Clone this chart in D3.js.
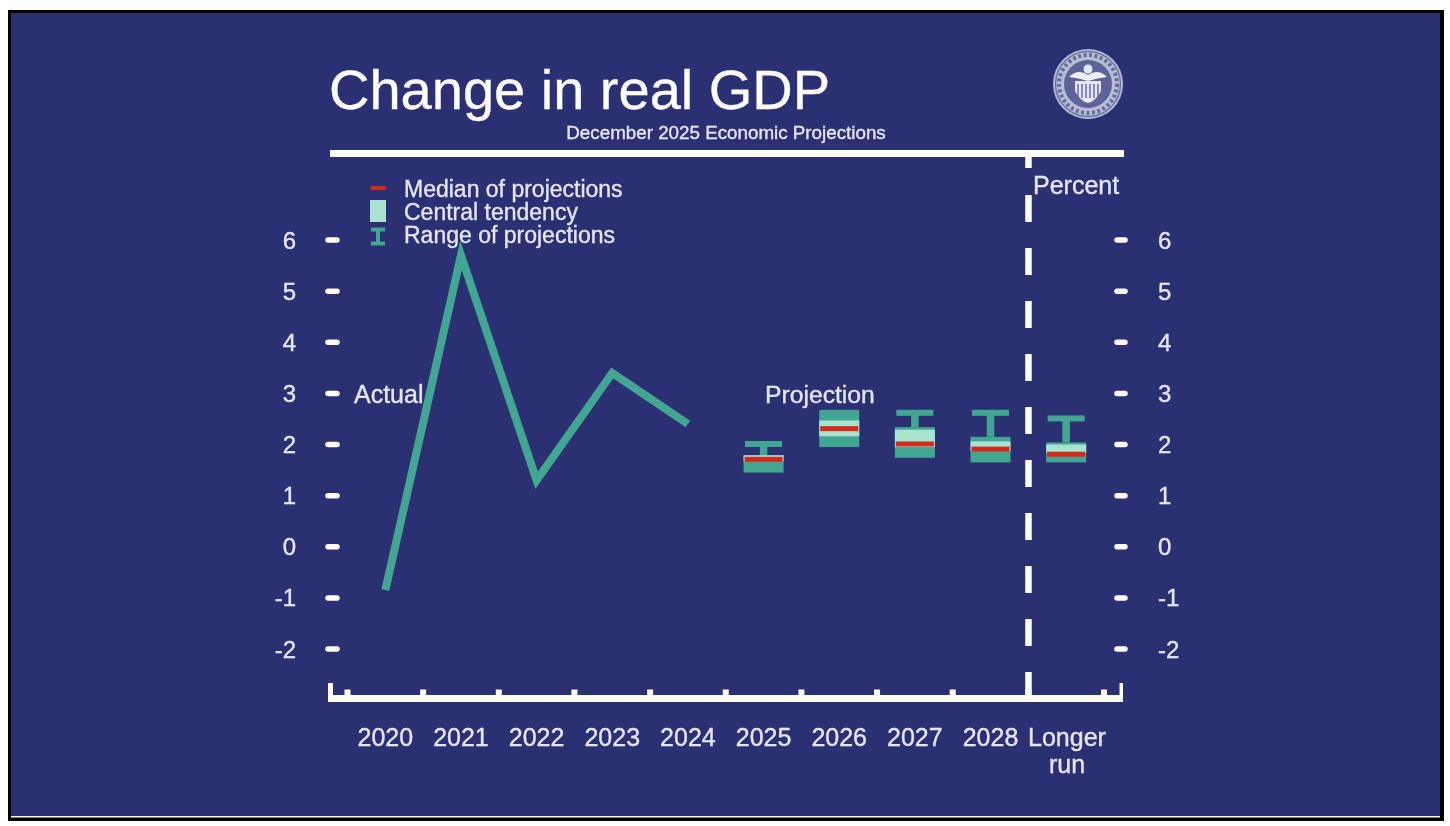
<!DOCTYPE html>
<html><head><meta charset="utf-8">
<script src="https://cdn.jsdelivr.net/npm/d3@7"></script>
<style>
html,body{margin:0;padding:0;background:#fff;overflow:hidden}
svg{display:block}
text{font-family:"Liberation Sans",Arial,sans-serif;fill:#e4e7f2;stroke:#e4e7f2;stroke-width:.35px}
</style></head><body>
<script>
const categories=["2020","2021","2022","2023","2024","2025","2026","2027","2028","Longer run"];
const yTicks=[6,5,4,3,2,1,0,-1,-2];
const actualYears=["2020","2021","2022","2023","2024"];
const actualValues=[-0.85,5.7,1.3,3.4,2.4];
const projYears=["2025","2026","2027","2028","Longer run"];
const rangeHigh=[2.01,2.62,2.62,2.62,2.51];
const boxHigh=[1.79,2.67,2.34,2.15,2.04];
const boxLow=[1.45,1.95,1.74,1.65,1.65];
const centralHigh=[1.79,2.47,2.29,2.06,2.0];
const centralLow=[1.67,2.16,1.95,1.87,1.83];
const medians=[1.71,2.31,2.01,1.91,1.81];

const W=1450,H=826,bg="#2b3072",teal="#42a692",light="#a8e3d0",red="#d32a1e",white="#fdfdff";
const svg=d3.select("body").append("svg").attr("width",W).attr("height",H);
svg.append("rect").attr("width",W).attr("height",H).attr("fill","#fff");
svg.append("rect").attr("x",8).attr("y",10).attr("width",1436).attr("height",811).attr("fill","#000");
svg.append("rect").attr("x",11).attr("y",13).attr("width",1429).attr("height",804).attr("fill",bg);
svg.append("rect").attr("x",11).attr("y",816).attr("width",1429).attr("height",1.5).attr("fill","#fff");

const defs=svg.append("defs");
defs.append("filter").attr("id","soft").attr("x","-5%").attr("y","-5%").attr("width","110%").attr("height","110%")
  .append("feGaussianBlur").attr("stdDeviation",0.55);
const chart=svg.append("g").attr("filter","url(#soft)");

const x=d3.scaleBand().domain(categories).range([347.5,1104]).paddingInner(0).paddingOuter(0);
const cx=c=>x(c)+x.bandwidth()/2;
const y=d3.scaleLinear().domain([-2,6]).range([649,240]);

// header
chart.append("text").attr("x",329).attr("y",109).attr("font-size",56).style("fill",white).style("stroke",white).text("Change in real GDP");
chart.append("text").attr("x",726).attr("y",139).attr("text-anchor","middle").attr("font-size",18.8).text("December 2025 Economic Projections");
chart.append("rect").attr("x",330).attr("y",150).attr("width",794).attr("height",7).attr("fill",white);

// seal
const seal=chart.append("g").attr("transform","translate(1088,84)");
seal.append("circle").attr("r",35).attr("fill","#b9bed6");
seal.append("circle").attr("r",32.5).attr("fill","none").attr("stroke","#6d74a3").attr("stroke-width",1.5);
seal.append("circle").attr("r",24).attr("fill","#5c6397");
seal.append("circle").attr("r",29).attr("fill","none").attr("stroke","#666d9e").attr("stroke-width",4).attr("stroke-dasharray","3 2.5");
seal.append("path").attr("d","M-19,-7Q-10,-16 0,-9Q10,-16 19,-7Q10,-6 0,-3Q-10,-6 -19,-7Z").attr("fill","#eef0f7");
seal.append("circle").attr("cy",-15).attr("r",4.5).attr("fill","#e5e7f2");
seal.append("path").attr("d","M-13,-3H13V7Q8,17 0,19Q-8,17 -13,7Z").attr("fill","#e5e7f2");
seal.selectAll("line.s").data(d3.range(-10,12,4)).join("line").attr("x1",d=>d).attr("x2",d=>d).attr("y1",0).attr("y2",14).attr("stroke","#5c6397").attr("stroke-width",1.4);

// y ticks and labels
[[328,337,296,"end"],[1117,1125,1158,"start"]].forEach(([a,b,lx,anchor])=>{
  chart.selectAll(null).data(yTicks).join("line").attr("x1",a).attr("x2",b).attr("y1",d=>y(d)).attr("y2",d=>y(d))
    .attr("stroke",white).attr("stroke-width",5.5).attr("stroke-linecap","round");
  chart.selectAll(null).data(yTicks).join("text").attr("x",lx).attr("y",d=>y(d)+8.5)
    .attr("text-anchor",anchor).attr("font-size",24).text(d=>d);
});

// x axis
chart.append("rect").attr("x",328).attr("y",695).attr("width",795).attr("height",7).attr("fill",white);
[[328,5],[1119.5,3.5]].forEach(([v,w])=>chart.append("rect").attr("x",v).attr("y",683).attr("width",w).attr("height",15).attr("fill",white));
const bounds=categories.map(c=>x(c)).concat([x(categories[9])+x.bandwidth()]);
chart.selectAll(null).data(bounds).join("rect").attr("x",d=>d-3).attr("y",689.5).attr("width",6).attr("height",8).attr("fill",white);
categories.forEach(c=>{
  const t=chart.append("text").attr("text-anchor","middle").attr("font-size",25);
  if(c==="Longer run"){
    t.attr("x",1067).attr("y",745.5).text("Longer");
    chart.append("text").attr("text-anchor","middle").attr("font-size",25).attr("x",1067).attr("y",772.5).text("run");
  } else t.attr("x",cx(c)).attr("y",745.5).text(c);
});

// dashed divider
chart.append("line").attr("x1",1028.5).attr("x2",1028.5).attr("y1",155).attr("y2",698)
  .attr("stroke",white).attr("stroke-width",6.5)
  .attr("stroke-dasharray",[13,27].concat(d3.range(10).flatMap(()=>[27,26])).join(" "));

// actual line
chart.append("path").datum(actualValues)
  .attr("d",d3.line().x((d,i)=>cx(actualYears[i])).y(d=>y(d)))
  .attr("fill","none").attr("stroke",teal).attr("stroke-width",8).attr("stroke-linejoin","miter");

// projections
const bw=38;
projYears.forEach((c,i)=>{
  const X=cx(c),g=chart.append("g");
  g.append("line").attr("x1",X).attr("x2",X).attr("y1",y(rangeHigh[i])).attr("y2",y(boxHigh[i])).attr("stroke",teal).attr("stroke-width",7.5);
  g.append("rect").attr("x",X-bw/2+.5).attr("y",y(rangeHigh[i])-3).attr("width",bw-1).attr("height",6).attr("fill",teal);
  g.append("rect").attr("x",X-bw/2-1).attr("y",y(boxHigh[i])).attr("width",bw+2).attr("height",y(boxLow[i])-y(boxHigh[i])).attr("fill",teal);
  g.append("rect").attr("x",X-bw/2-1).attr("y",y(centralHigh[i])).attr("width",bw+2).attr("height",y(centralLow[i])-y(centralHigh[i])).attr("fill",light);
  g.append("rect").attr("x",X-bw/2).attr("y",y(medians[i])-2.5).attr("width",bw).attr("height",5).attr("fill",red);
});

// labels
chart.append("text").attr("x",354).attr("y",403).attr("font-size",25).text("Actual");
chart.append("text").attr("x",765).attr("y",403).attr("font-size",24.7).text("Projection");
chart.append("text").attr("x",1033).attr("y",194).attr("font-size",25).text("Percent");

// legend
[["Median of projections",197],["Central tendency",220],["Range of projections",243]].forEach(([t,b])=>
  chart.append("text").attr("x",404).attr("y",b).attr("font-size",23).text(t));
chart.append("rect").attr("x",370).attr("y",186).attr("width",16).attr("height",4).attr("rx",2).attr("fill",red);
chart.append("rect").attr("x",370).attr("y",200).attr("width",16).attr("height",22).attr("fill",light);
chart.append("path").attr("d","M371,229.5H385M378,229.5V243M371,243.5H385").attr("stroke",teal).attr("stroke-width",4).attr("fill","none");
</script></body></html>
